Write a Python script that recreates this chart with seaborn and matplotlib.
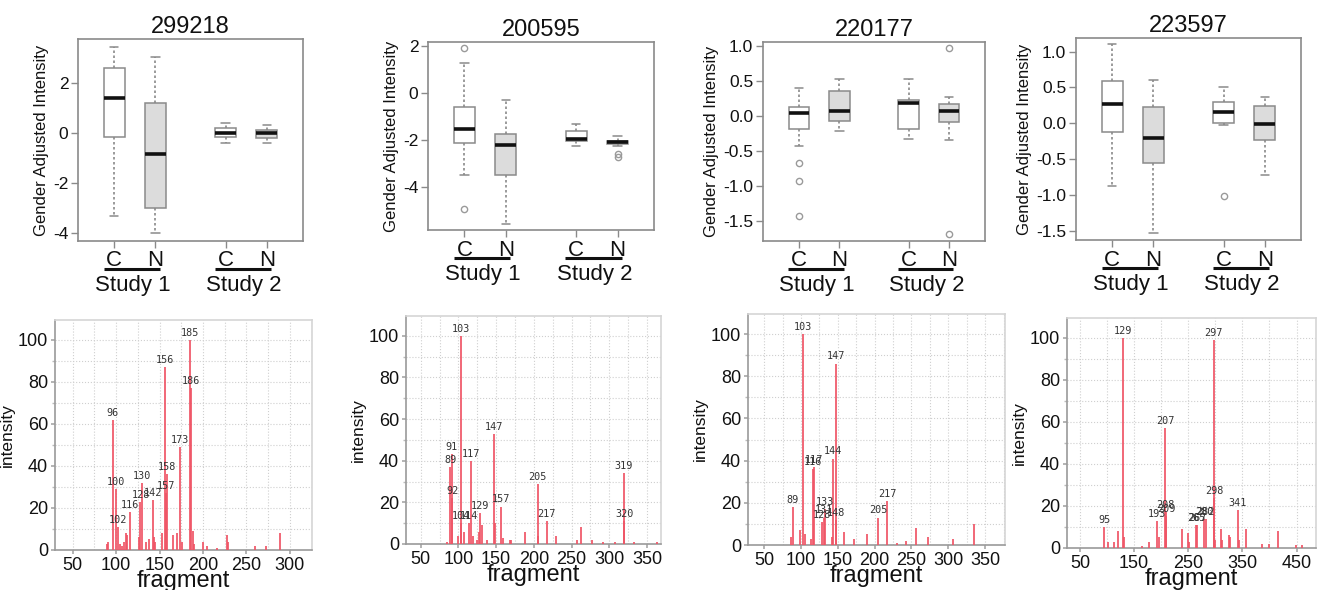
import numpy as np
import pandas as pd
import matplotlib
matplotlib.use("Agg")
import matplotlib.pyplot as plt
import matplotlib.transforms as mtransforms
from matplotlib.ticker import MultipleLocator, FormatStrFormatter
import seaborn as sns

sns.set_theme(style="white")
plt.rcParams['font.family'] = ['Liberation Sans', 'DejaVu Sans']
plt.rcParams['axes.unicode_minus'] = False

# ---------------- data ----------------
compounds = ["299218", "200595", "220177", "223597"]
groups = ["C", "N", "C", "N"]
studies = ["Study 1", "Study 2"]

# box statistics per group (C1, N1, C2, N2): [whislo, q1, med, q3, whishi]
box_299218 = [[-3.31, -0.16, 1.39, 2.59, 3.44], [-4.01, -3.01, -0.84, 1.21, 3.03],
              [-0.39, -0.17, -0.01, 0.19, 0.39], [-0.39, -0.19, 0.01, 0.12, 0.32]]
fliers_299218 = [[], [], [], []]
box_200595 = [[-3.48, -2.10, -1.51, -0.58, 1.30], [-5.56, -3.48, -2.19, -1.75, -0.29],
              [-2.23, -2.04, -1.96, -1.60, -1.32], [-2.23, -2.16, -2.09, -2.02, -1.82]]
fliers_200595 = [[1.91, -4.92], [], [], [-2.58, -2.72]]
box_220177 = [[-0.43, -0.19, 0.03, 0.12, 0.39], [-0.22, -0.08, 0.07, 0.35, 0.52],
              [-0.34, -0.19, 0.18, 0.22, 0.52], [-0.35, -0.09, 0.07, 0.16, 0.26]]
fliers_220177 = [[-0.68, -0.94, -1.44], [], [], [0.96, -1.69]]
box_223597 = [[-0.88, -0.12, 0.27, 0.59, 1.10], [-1.53, -0.56, -0.20, 0.23, 0.61],
              [-0.03, 0.01, 0.15, 0.29, 0.50], [-0.72, -0.24, -0.01, 0.24, 0.36]]
fliers_223597 = [[], [], [-1.01], []]

box_yticks_a = [-4, -2, 0, 2]
box_yticks_b = [-1.5, -1.0, -0.5, 0.0, 0.5, 1.0]

# mass spectra: fragment (m/z) and relative intensity
mz_299218 = [89, 91, 96, 100, 102, 104, 107, 109, 111, 113, 116, 126, 128, 130, 134, 138,
             142, 143, 145, 153, 156, 157, 158, 165, 170, 173, 176, 185, 186, 188, 190,
             200, 204, 216, 227, 229, 260, 273, 288]
int_299218 = [3, 4, 62, 29, 11, 3, 2, 4, 8, 7, 18, 6, 23, 32, 4, 5,
              24, 6, 4, 8, 87, 27, 36, 7, 8, 49, 4, 100, 77, 9, 3,
              4, 2, 1, 7, 4, 2, 2, 8]
lab_299218 = [96, 100, 102, 116, 128, 130, 142, 156, 157, 158, 173, 185, 186]

mz_200595 = [85, 89, 91, 92, 100, 103, 104, 107, 114, 117, 119, 124, 127, 129, 131, 138,
             147, 149, 157, 159, 168, 170, 188, 205, 206, 217, 229, 257, 262, 277, 292,
             308, 319, 320, 333, 363]
int_200595 = [1, 37, 43, 22, 4, 100, 10, 6, 10, 40, 4, 2, 6, 15, 9, 2,
              53, 10, 18, 3, 2, 2, 6, 29, 4, 11, 4, 2, 8, 2, 1,
              1, 34, 11, 1, 1]
lab_200595 = [89, 91, 92, 103, 104, 114, 117, 129, 147, 157, 205, 217, 319, 320]

mz_220177 = [86, 89, 99, 103, 106, 114, 116, 117, 128, 131, 133, 142, 144, 147, 148, 158,
             172, 189, 205, 217, 230, 243, 256, 273, 307, 335]
int_220177 = [4, 18, 7, 100, 5, 3, 36, 37, 11, 13, 17, 4, 41, 86, 12, 6,
              3, 5, 13, 21, 1, 2, 8, 4, 3, 10]
lab_220177 = [89, 103, 116, 117, 128, 131, 133, 144, 147, 148, 205, 217]

mz_223597 = [95, 102, 113, 121, 129, 131, 164, 178, 193, 196, 207, 208, 209, 239, 249,
             252, 265, 267, 280, 282, 297, 298, 299, 311, 313, 326, 328, 341, 343, 356,
             386, 400, 415, 449, 461]
int_223597 = [10, 3, 3, 8, 100, 5, 1, 3, 13, 5, 57, 17, 15, 9, 7,
              3, 11, 11, 14, 14, 99, 24, 4, 9, 4, 6, 5, 18, 4, 9,
              2, 2, 8, 1.5, 1.5]
lab_223597 = [95, 129, 193, 207, 208, 209, 265, 267, 280, 282, 297, 298, 341]

spec_xticks = [[50, 100, 150, 200, 250, 300], [50, 100, 150, 200, 250, 300, 350],
               [50, 100, 150, 200, 250, 300, 350], [50, 150, 250, 350, 450]]

# ---------------- layout ----------------
W, H = 1317, 590
fig = plt.figure(figsize=(W / 100, H / 100), dpi=100)
fig.patch.set_facecolor("white")


def rect(l, t, r, b):
    return [l / W, 1 - b / H, (r - l) / W, (b - t) / H]


top_rects = [(78, 39, 303, 241), (428, 42, 654, 230), (763, 42, 985, 241), (1076, 38, 1301, 240)]
bot_rects = [(55, 320, 312, 550), (406, 316, 661, 544), (748, 314, 1005, 545), (1067, 318, 1316, 548)]
box_ylims = [(-4.32, 3.76), (-5.82, 2.18), (-1.79, 1.05), (-1.63, 1.19)]
spec_xlims = [(29.6, 325.4), (30.5, 368.6), (28, 377), (26, 486)]

positions = [1, 2, 3.7, 4.7]
box_sets = [(box_299218, fliers_299218), (box_200595, fliers_200595),
            (box_220177, fliers_220177), (box_223597, fliers_223597)]
spectra = [(mz_299218, int_299218, lab_299218), (mz_200595, int_200595, lab_200595),
           (mz_220177, int_220177, lab_220177), (mz_223597, int_223597, lab_223597)]

EDGE = "#8a8a8a"
RED = "#ef5566"

for i in range(4):
    ax = fig.add_axes(rect(*top_rects[i]))
    boxes, fliers = box_sets[i]
    stats = []
    for b, f in zip(boxes, fliers):
        stats.append(dict(whislo=b[0], q1=b[1], med=b[2], q3=b[3], whishi=b[4], fliers=f))
    bp = ax.bxp(stats, positions=positions, widths=0.5, capwidths=0.2, patch_artist=True,
                boxprops=dict(edgecolor=EDGE, linewidth=1.1),
                whiskerprops=dict(color=EDGE, linewidth=1.2, linestyle=(0, (1.5, 1.5))),
                capprops=dict(color=EDGE, linewidth=1.1),
                medianprops=dict(color="#111111", linewidth=2.6),
                flierprops=dict(marker="o", markerfacecolor="none", markeredgecolor="#9a9a9a",
                                markersize=4.5, markeredgewidth=1.0))
    for patch, g in zip(bp["boxes"], groups):
        patch.set_facecolor("white" if g == "C" else "#dcdcdc")
    ax.set_xlim(0.12, 5.58)
    ax.set_ylim(*box_ylims[i])
    if i < 2:
        ax.set_yticks(box_yticks_a)
        ax.yaxis.set_major_formatter(FormatStrFormatter("%d"))
    else:
        ax.set_yticks(box_yticks_b)
        ax.yaxis.set_major_formatter(FormatStrFormatter("%.1f"))
    ax.set_xticks(positions)
    ax.set_xticklabels([])
    ax.tick_params(axis="both", direction="out", length=5, color=EDGE, width=1,
                   labelsize=12.5, labelcolor="#111111", left=True, bottom=True, pad=2)
    for s in ax.spines.values():
        s.set_color(EDGE)
        s.set_linewidth(1.2)
    ax.set_ylabel("Gender Adjusted Intensity", fontsize=12, color="#111111", labelpad=3)
    ax.set_title(compounds[i], fontsize=17, color="#111111", pad=4)

    trans = mtransforms.blended_transform_factory(ax.transData, ax.transAxes)
    for p, g in zip(positions, groups):
        ax.annotate(g, xy=(p, 0), xycoords=trans, xytext=(0, -25.5), textcoords="offset pixels",
                    ha="center", va="baseline", fontsize=16, color="#111111", annotation_clip=False)
    for (a, b), st in zip([(positions[0], positions[1]), (positions[2], positions[3])], studies):
        line_tr = trans + mtransforms.ScaledTranslation(0, -0.275, fig.dpi_scale_trans)
        ax.plot([a - 0.26, b + 0.1], [0, 0], transform=line_tr, color="#111111",
                linewidth=2.2, clip_on=False, solid_capstyle="butt")
        ax.annotate(st, xy=((a + b) / 2 - 0.05, 0), xycoords=trans, xytext=(0, -34),
                    textcoords="offset pixels", ha="center", va="top", fontsize=16,
                    color="#111111", annotation_clip=False)

for i in range(4):
    ax = fig.add_axes(rect(*bot_rects[i]))
    mz, inten, labs = spectra[i]
    df = pd.DataFrame({"fragment": mz, "intensity": inten})
    ax.vlines(df["fragment"], 0, df["intensity"], colors=RED, linewidth=1.25, zorder=3)
    lookup = dict(zip(mz, inten))
    for m in labs:
        ax.annotate(str(m), xy=(m, lookup[m]), xytext=(0, 1.5), textcoords="offset points",
                    ha="center", va="bottom", fontsize=7.3, color="#333333",
                    family=["DejaVu Sans Mono"], zorder=4)
    ax.set_xlim(*spec_xlims[i])
    ax.set_ylim(0, 109.5)
    ax.set_xticks(spec_xticks[i])
    ax.set_yticks([0, 20, 40, 60, 80, 100])
    ax.xaxis.set_minor_locator(MultipleLocator(50 if i == 3 else 25))
    ax.yaxis.set_minor_locator(MultipleLocator(10))
    ax.grid(True, which="both", linestyle=":", color="#cfcfcf", linewidth=0.8, zorder=0)
    ax.set_axisbelow(True)
    ax.tick_params(axis="both", which="major", labelsize=13, labelcolor="#111111",
                   length=3, color="#aaaaaa", left=True, bottom=True, pad=2)
    ax.tick_params(axis="both", which="minor", length=2, color="#bbbbbb", left=True, bottom=False)
    ax.spines["left"].set_color("#9a9a9a")
    ax.spines["bottom"].set_color("#9a9a9a")
    ax.spines["top"].set_color("#d5d5d5")
    ax.spines["right"].set_color("#d5d5d5")
    for s in ax.spines.values():
        s.set_linewidth(1.2)
    ax.set_xlabel("fragment", fontsize=17, color="#111111", labelpad=-3)
    ax.set_ylabel("intensity", fontsize=12.5, color="#111111", labelpad=2)

fig.savefig("out.png", dpi=100, facecolor="white")
